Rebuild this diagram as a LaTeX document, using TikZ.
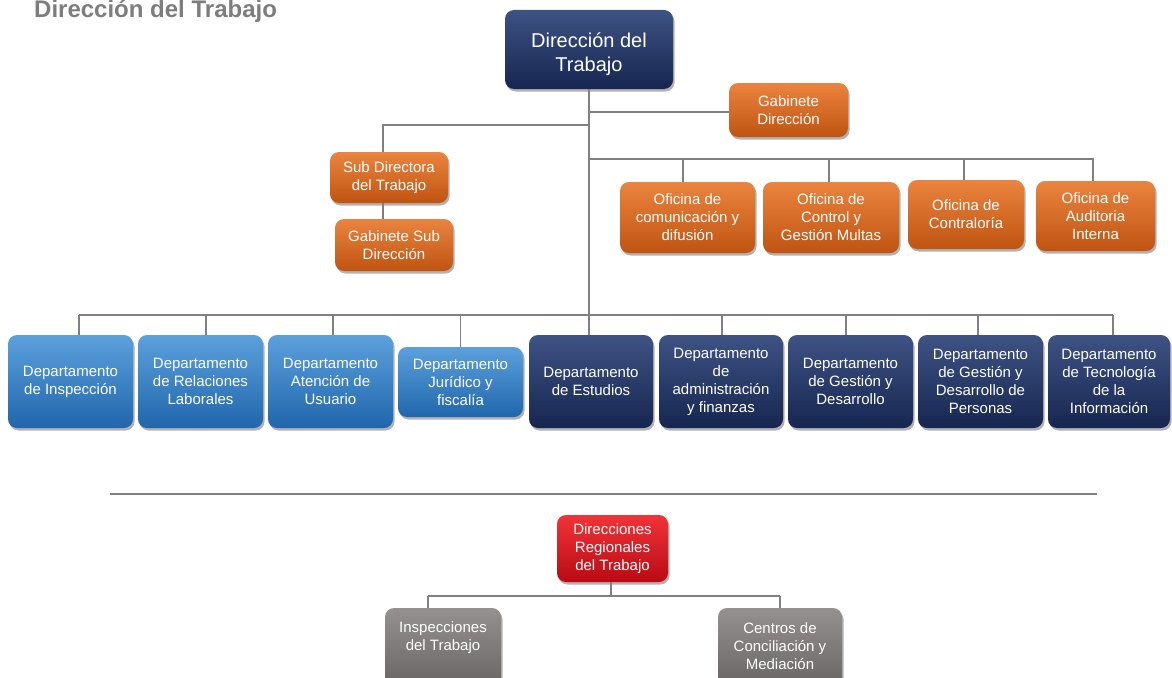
\documentclass[tikz,border=0pt]{standalone}
\usepackage{fontspec}
\setmainfont{Liberation Sans}
\usetikzlibrary{shadows,calc}
\definecolor{navyT}{RGB}{62,82,132}
\definecolor{navyB}{RGB}{22,38,80}
\definecolor{blueT}{RGB}{92,160,220}
\definecolor{blueB}{RGB}{32,102,172}
\definecolor{orangeT}{RGB}{234,132,62}
\definecolor{orangeB}{RGB}{192,84,18}
\definecolor{redT}{RGB}{240,52,56}
\definecolor{redB}{RGB}{186,10,20}
\definecolor{grayT}{RGB}{150,145,145}
\definecolor{grayB}{RGB}{104,99,99}
\definecolor{lineGray}{RGB}{128,128,128}
\definecolor{titleGray}{RGB}{125,125,125}
\tikzset{
  box/.style={rounded corners=9pt, align=center, text=white, inner sep=0pt,
    font=\fontsize{15}{18}\selectfont,
    drop shadow={shadow xshift=1.5pt, shadow yshift=-2.5pt, opacity=0.3, fill=black}},
  navybox/.style={box, top color=navyT, bottom color=navyB},
  bluebox/.style={box, top color=blueT, bottom color=blueB},
  orangebox/.style={box, top color=orangeT, bottom color=orangeB},
  redbox/.style={box, top color=redT, bottom color=redB},
  graybox/.style={box, top color=grayT, bottom color=grayB},
  dept/.style={minimum width=#1, minimum height=93pt},
  link/.style={draw=lineGray, line width=1.8pt},
}
\begin{document}
\begin{tikzpicture}[x=1pt,y=-1pt]
\useasboundingbox[fill=white] (0,0) rectangle (1172,677);

% title
\node[anchor=base west, inner sep=0pt, text=titleGray,
  font=\fontsize{24}{28}\selectfont\bfseries] (title) at (34,18) {Dirección del Trabajo};

% top level
\node[navybox, minimum width=168pt, minimum height=79pt, text height=49pt,
  font=\fontsize{20}{24}\selectfont] (top) at (589,49.5) {Dirección del\\Trabajo};
\node[orangebox, minimum width=119pt, minimum height=54pt] (gd) at (788.5,110) {Gabinete\\Dirección};

% sub direction
\node[orangebox, minimum width=118pt, minimum height=51pt] (sub) at (389,177.5) {Sub Directora\\del Trabajo};
\node[orangebox, minimum width=118pt, minimum height=52pt] (gsub) at (394,245) {Gabinete Sub\\Dirección};

% offices
\node[orangebox, minimum width=135pt, minimum height=71pt] (o1) at (687.5,217.5) {Oficina de\\comunicación y\\difusión};
\node[orangebox, minimum width=136pt, minimum height=71pt] (o2) at (831,217.5) {Oficina de\\Control y\\Gestión Multas};
\node[orangebox, minimum width=116pt, minimum height=69pt] (o3) at (966,214.5) {Oficina de\\Contraloría};
\node[orangebox, minimum width=119pt, minimum height=70pt] (o4) at (1095.5,216) {Oficina de\\Auditoria\\Interna};

% departments
\node[bluebox, dept=125pt] (d1) at (70.5,381.5) {Departamento\\de Inspección};
\node[bluebox, dept=125pt] (d2) at (200.5,381.5) {Departamento\\de Relaciones\\Laborales};
\node[bluebox, dept=125pt] (d3) at (330.5,381.5) {Departamento\\Atención de\\Usuario};
\node[bluebox, minimum width=125pt, minimum height=70pt] (d4) at (460.5,382) {Departamento\\Jurídico y\\fiscalía};
\node[navybox, dept=124pt] (d5) at (591,381.5) {Departamento\\de Estudios};
\node[navybox, dept=124pt] (d6) at (721,381.5) {Departamento\\de\\administración\\y finanzas};
\node[navybox, dept=125pt] (d7) at (850.5,381.5) {Departamento\\de Gestión y\\Desarrollo};
\node[navybox, dept=125pt] (d8) at (980.5,381.5) {Departamento\\de Gestión y\\Desarrollo de\\Personas};
\node[navybox, dept=122pt] (d9) at (1109,381.5) {Departamento\\de Tecnología\\de la\\Información};

% regional
\node[redbox, minimum width=111pt, minimum height=67pt] (reg) at (612.5,548.5) {Direcciones\\Regionales\\del Trabajo};
\node[graybox, minimum width=116pt, minimum height=82pt, text depth=25pt] (insp) at (443,649) {Inspecciones\\del Trabajo};
\node[graybox, minimum width=124pt, minimum height=82pt, text depth=6pt] (cent) at (780,649) {Centros de\\Conciliación y\\Mediación};

% junction coordinates
\coordinate (jG) at (589,112);
\coordinate (jS) at (589,125);
\coordinate (jO) at (589,159);
\coordinate (jD) at (589,315);
\coordinate (jR) at (611,596);

% connectors: top part
\draw[link] (top.south) -- (top.south |- d5.north);
\draw[link] (jG) -- (jG -| gd.west);
\draw[link] (jS) -| ([xshift=-6pt]sub.north);
\draw[link] ([xshift=-6pt]sub.south) -- ([xshift=-6pt]sub.south |- gsub.north);
\draw[link] (jO) -| ([xshift=-2.5pt]o4.north);
\draw[link] ([xshift=-4.5pt]o1.north |- jO) -- ([xshift=-4.5pt]o1.north);
\draw[link] ([xshift=-2pt]o2.north |- jO) -- ([xshift=-2pt]o2.north);
\draw[link] ([xshift=-2pt]o3.north |- jO) -- ([xshift=-2pt]o3.north);

% departments bus
\draw[link] ([xshift=8.5pt]d1.north |- jD) -- ([xshift=4pt]d9.north |- jD);
\foreach \n/\s in {d1/8.5, d2/5.5, d3/2.5, d4/0, d6/1, d7/-4.5, d8/-2.5, d9/4}
  \draw[link] ([xshift=\s pt]\n.north |- jD) -- ([xshift=\s pt]\n.north);

% separator
\draw[draw=lineGray, line width=1.8pt] (110,494) -- (1097,494);

% regional connectors
\draw[link] (jR |- reg.south) -- (jR);
\draw[link] ([xshift=-15pt]insp.north |- jR) -- (cent.north |- jR);
\draw[link] ([xshift=-15pt]insp.north |- jR) -- ([xshift=-15pt]insp.north);
\draw[link] (cent.north |- jR) -- (cent.north);
\end{tikzpicture}
\end{document}
